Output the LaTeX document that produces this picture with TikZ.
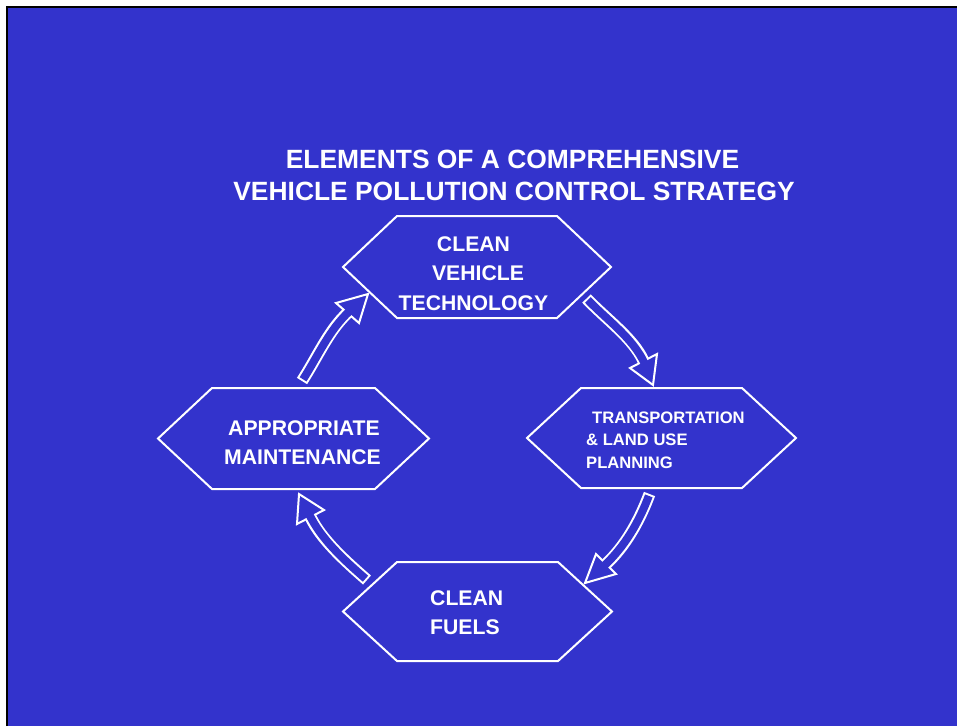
\documentclass[tikz,border=0pt]{standalone}
\usepackage{fontspec}
\setmainfont{Liberation Sans}
\definecolor{bg}{RGB}{51,51,204}
\newcommand\hexat[3]{\draw[hexline,shift={(#1)}] (-#2,0) -- ({-#2+54},-#3) -- ({#2-54},-#3) -- (#2,0) -- ({#2-54},#3) -- ({-#2+54},#3) -- cycle;}
% block arrow: tail, c1, c2, base, barb1, tip, barb2
\newcommand\blockarrow[7]{%
  \draw[white, line width=12pt] (#1) .. controls (#2) and (#3) .. (#4);
  \draw[white, line width=2pt, fill=bg, line join=miter, miter limit=20] (#5) -- (#6) -- (#7) -- cycle;
  \draw[bg, line width=8pt, shorten <=2pt, shorten >=-3pt] (#1) .. controls (#2) and (#3) .. (#4);
}
\begin{document}
\begin{tikzpicture}[x=1pt,y=-1pt,
  hexline/.style={draw=white, line width=2pt, line join=miter},
  ttl/.style={text=white, inner sep=0pt, font=\bfseries\fontsize{26.4}{30}\selectfont},
  lbl/.style={text=white, inner sep=0pt, font=\bfseries\fontsize{21.2}{25}\selectfont},
  slbl/.style={text=white, inner sep=0pt, font=\bfseries\fontsize{16.6}{19}\selectfont}]
\useasboundingbox (0,0) rectangle (957,726);
\fill[white] (0,0) rectangle (957,726);
\fill[bg] (6,6) rectangle (957,726);
\draw[black, line width=2pt] (7,726) -- (7,7) -- (957,7);

% title
\node[ttl, anchor=base] (title1) at (512.5,168) {ELEMENTS OF A COMPREHENSIVE};
\node[ttl, anchor=base] (title2) at (514,200) {VEHICLE POLLUTION CONTROL STRATEGY};

% hexagons
\coordinate (hexTop) at (477,267);
\coordinate (hexRight) at (661.5,438);
\coordinate (hexLeft) at (293.5,438.5);
\coordinate (hexBottom) at (477.5,611.5);
\hexat{hexTop}{134}{51}
\hexat{hexRight}{134.5}{50}
\hexat{hexLeft}{135.5}{50.5}
\hexat{hexBottom}{134.5}{49.5}

% labels
\node[lbl, anchor=base] (top1) at (473.5,251) {CLEAN};
\node[lbl, anchor=base] (top2) at (478,280) {VEHICLE};
\node[lbl, anchor=base] (top3) at (473.5,310) {TECHNOLOGY};

\node[slbl, anchor=base west] (right1) at (592,423) {TRANSPORTATION};
\node[slbl, anchor=base west] (right2) at (586,445) {\& LAND USE};
\node[slbl, anchor=base west] (right3) at (586,468) {PLANNING};

\node[lbl, anchor=base west] (left1) at (228,435) {APPROPRIATE};
\node[lbl, anchor=base west] (left2) at (224,464) {MAINTENANCE};

\node[lbl, anchor=base west] (bot1) at (430,605) {CLEAN};
\node[lbl, anchor=base west] (bot2) at (430,634) {FUELS};

% arrow 1: top -> right
\coordinate (a1t) at (586.5,298.5);
\coordinate (a1c) at (607,320);
\coordinate (a1d) at (633,338);
\coordinate (a1b) at (643.5,361);
\coordinate (a1l) at (630,368);
\coordinate (a1p) at (653,385);
\coordinate (a1r) at (657,354);
\blockarrow{a1t}{a1c}{a1d}{a1b}{a1l}{a1p}{a1r}

% arrow 2: right -> bottom
\coordinate (a2t) at (649.5,494);
\coordinate (a2c) at (639,522);
\coordinate (a2d) at (624.5,547);
\coordinate (a2b) at (606,564);
\coordinate (a2l) at (616,574);
\coordinate (a2p) at (585,583);
\coordinate (a2r) at (596,554);
\blockarrow{a2t}{a2c}{a2d}{a2b}{a2l}{a2p}{a2r}

% arrow 3: bottom -> left
\coordinate (a3t) at (367,580);
\coordinate (a3c) at (344,560);
\coordinate (a3d) at (321,539);
\coordinate (a3b) at (310.5,517);
\coordinate (a3l) at (324,510);
\coordinate (a3p) at (299,494);
\coordinate (a3r) at (297,524);
\blockarrow{a3t}{a3c}{a3d}{a3b}{a3l}{a3p}{a3r}

% arrow 4: left -> top
\coordinate (a4t) at (302,381);
\coordinate (a4c) at (318,356);
\coordinate (a4d) at (329,330);
\coordinate (a4b) at (347.5,313);
\coordinate (a4l) at (336,303);
\coordinate (a4p) at (368,294);
\coordinate (a4r) at (359,323);
\blockarrow{a4t}{a4c}{a4d}{a4b}{a4l}{a4p}{a4r}
\end{tikzpicture}
\end{document}
